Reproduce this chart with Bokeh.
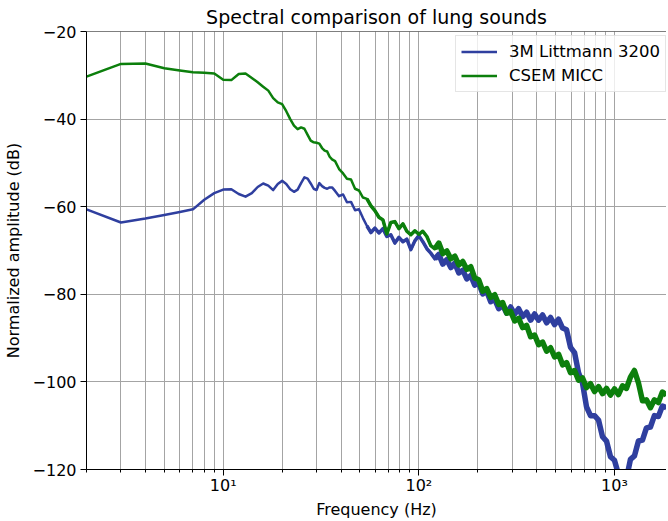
from bokeh.plotting import figure
from bokeh.models import (FixedTicker, CustomJSTickFormatter, Span, Legend,
                          LegendItem, ColumnDataSource, Title)
from bokeh.embed import file_html
from bokeh.resources import INLINE

TITLE = "Spectral comparison of lung sounds"
X_LABEL = "Frequency (Hz)"
Y_LABEL = "Normalized amplitude (dB)"
SERIES_NAMES = ["3M Littmann 3200", "CSEM MICC"]

FREQ = [2, 3, 4, 5, 6, 7, 8, 9, 10, 11, 12, 13, 14, 15, 16, 17, 18, 19, 20,
        21, 22, 23, 24, 25, 26, 27, 28, 29, 30, 31, 32, 33, 34, 35, 36,
        37.3, 39.1, 41.0, 42.9, 45.0, 47.2, 49.4, 51.8, 54.3, 56.9,
        59.6, 62.5, 65.5, 68.6, 71.9, 75.4, 79.1, 82.9, 86.8, 91.0,
        95.4, 100, 104.8, 109.9, 115.1, 120.7, 126.5, 132.6, 139.0, 145.7,
        152.7, 160.0, 167.7, 175.8, 184.2, 193.1, 202.4, 212.1, 222.3, 233.0,
        244.2, 256.0, 268.3, 281.2, 294.7, 308.9, 323.7, 339.3, 355.6, 372.8,
        390.7, 409.5, 429.2, 449.9, 471.5, 494.2, 518.0, 542.9, 569.0, 596.4,
        625.1, 655.2, 686.7, 719.7, 754.4, 790.7, 828.7, 868.6, 910.4, 954.2,
        1000, 1048, 1099, 1151, 1207, 1265, 1326, 1390, 1457, 1527,
        1600, 1677, 1758, 1842]

LITTMANN = [-60.6, -63.6, -62.7, -61.9, -61.2, -60.6, -58.4, -56.9, -56.1, -56.0,
            -57.1, -57.7, -56.9, -55.5, -54.7, -55.2, -56.2, -54.8, -54.1, -54.8,
            -56.0, -56.6, -56.1, -54.6, -53.3, -53.6, -54.7, -55.9, -56.2, -54.6,
            -55.3, -55.7, -55.9, -55.6, -55.6,
            -56.4, -57.6, -57.2, -59.0, -58.9, -60.8, -60.6, -62.6, -64.4, -65.9,
            -64.9, -66.0, -65.0, -66.8, -66.4, -68.3, -67.0, -68.0, -67.4, -69.8,
            -67.8, -66.6, -68.0, -69.6, -70.6, -71.9,
            -70.9, -73.1, -72.1, -73.9, -72.9, -75.1, -74.5, -76.5, -75.7, -77.9,
            -77.5, -79.9, -79.3, -81.7, -81.1, -83.3, -82.5, -84.3, -82.9, -84.5,
            -83.3, -85.1, -84.1, -85.9, -84.5, -85.9, -84.7, -86.5, -85.3, -86.9,
            -85.7, -87.7, -88.1, -92.1, -93.3, -97.9, -100.3, -105.7, -107.7, -107.7,
            -108.7, -112.5, -113.5, -117.1, -117.9, -121.1, -121.1, -122.1, -117.7, -116.9,
            -113.5, -113.3, -110.5, -110.3, -107.7, -107.9, -105.5, -105.9]

MICC = [-30.3, -27.4, -27.3, -28.4, -28.9, -29.3, -29.4, -29.6, -31.0, -31.1,
        -29.7, -29.6, -30.6, -31.6, -32.6, -33.5, -35.2, -36.2, -36.6, -38.2,
        -40.0, -41.5, -42.3, -41.9, -42.2, -43.6, -44.9, -45.3, -45.4, -45.6,
        -46.6, -47.2, -47.4, -48.6, -49.2,
        -49.6, -51.4, -52.4, -53.6, -53.8, -55.9, -56.3, -57.9, -58.2, -59.8,
        -60.9, -62.4, -63.0, -66.2, -63.6, -63.4, -65.0, -63.9, -65.6, -66.4,
        -65.5, -66.3, -65.6, -66.8, -68.9, -69.6,
        -68.3, -70.7, -70.1, -71.9, -71.3, -73.3, -72.5, -74.3, -73.7, -76.3,
        -76.7, -79.3, -78.7, -80.7, -80.1, -82.3, -81.9, -84.3, -83.9, -86.1,
        -85.5, -87.6, -87.1, -89.7, -89.3, -91.5, -90.9, -93.0, -92.2, -94.3,
        -93.7, -96.1, -95.6, -97.9, -97.4, -99.6, -99.1, -101.3, -100.4, -102.2,
        -101.1, -102.7, -101.5, -103.0, -101.6, -102.9, -100.9, -101.5, -98.9, -97.4,
        -100.2, -104.3, -104.1, -105.9, -104.1, -104.7, -102.3, -103.0]

X_MAJOR = [10, 100, 1000]
X_MINOR = [2, 3, 4, 5, 6, 7, 8, 9, 20, 30, 40, 50, 60, 70, 80, 90,
           200, 300, 400, 500, 600, 700, 800, 900]
Y_TICKS = [-120, -100, -80, -60, -40, -20]
X_RANGE = (2, 1845)
Y_RANGE = (-120, -20)

BLUE = "#2f3f9f"
GREEN = "#0c7f0c"
GRID = "#a4a4a4"
FONT = "DejaVu Sans"


def tail(f_from):
    i = next(j for j, f in enumerate(FREQ) if f >= f_from) - 1
    return ColumnDataSource(dict(freq=FREQ[i:], littmann=LITTMANN[i:], micc=MICC[i:]))


src = ColumnDataSource(dict(freq=FREQ, littmann=LITTMANN, micc=MICC))
src_mid = tail(56)
src_hi = tail(125)

p = figure(frame_width=580, frame_height=438, x_axis_type="log", x_range=X_RANGE,
           y_range=Y_RANGE, output_backend="svg", toolbar_location=None, title=TITLE,
           min_border_left=80, min_border_right=0, min_border_top=23, min_border_bottom=44)

p.title.text_font = FONT
p.title.text_font_size = "19px"
p.title.text_font_style = "normal"
p.title.align = "center"
p.title.text_color = "black"
p.title.standoff = 7
p.title.offset = 3

p.outline_line_color = None
p.background_fill_color = "white"
p.border_fill_color = "white"

xt = FixedTicker(ticks=X_MAJOR, minor_ticks=X_MINOR)
yt = FixedTicker(ticks=Y_TICKS)
p.xaxis.ticker = xt
p.yaxis.ticker = yt
p.xgrid.ticker = xt
p.ygrid.ticker = yt

p.xaxis.formatter = CustomJSTickFormatter(code="""
const s = {1: '\u00b9', 2: '\u00b2', 3: '\u00b3'};
const e = Math.round(Math.log10(tick));
return '10' + (s[e] || String(e));
""")
p.yaxis.formatter = CustomJSTickFormatter(code="""
return tick < 0 ? '\u2212' + String(-tick) : String(tick);
""")

for ax in (p.xaxis[0], p.yaxis[0]):
    ax.axis_line_color = "black"
    ax.axis_line_width = 1
    ax.major_tick_line_color = "black"
    ax.major_tick_out = 6
    ax.major_tick_in = 0
    ax.minor_tick_line_color = "black"
    ax.minor_tick_out = 3
    ax.minor_tick_in = 0
    ax.major_label_text_font = FONT
    ax.major_label_text_font_size = "16px"
    ax.major_label_text_color = "black"
    ax.axis_label_text_font = FONT
    ax.axis_label_text_font_size = "16px"
    ax.axis_label_text_font_style = "normal"
    ax.axis_label_text_color = "black"

p.yaxis.minor_tick_line_color = None
p.yaxis.axis_label = Y_LABEL
p.xaxis.major_label_standoff = 0
p.yaxis.major_label_standoff = 4
p.yaxis.axis_label_standoff = 7

# x axis title, placed below the x axis as a text panel
x_title = Title(text=X_LABEL, align="center", offset=3, standoff=0,
                text_font=FONT, text_font_size="16px", text_font_style="normal",
                text_color="black")
p.add_layout(x_title, "below")

p.xgrid.grid_line_color = GRID
p.xgrid.minor_grid_line_color = GRID
p.ygrid.grid_line_color = GRID
p.xgrid.grid_line_width = 1
p.ygrid.grid_line_width = 1

p.add_layout(Span(location=Y_RANGE[1], dimension="width", line_color="black", line_width=1))

rb = p.line("freq", "littmann", source=src, line_color=BLUE, line_width=2.5, line_join="round")
p.line("freq", "littmann", source=src_mid, line_color=BLUE, line_width=3.5, line_join="round")
p.line("freq", "littmann", source=src_hi, line_color=BLUE, line_width=5.5, line_join="round")
rg = p.line("freq", "micc", source=src, line_color=GREEN, line_width=2.5, line_join="round")
p.line("freq", "micc", source=src_mid, line_color=GREEN, line_width=3.5, line_join="round")
p.line("freq", "micc", source=src_hi, line_color=GREEN, line_width=5.5, line_join="round")

legend = Legend(items=[LegendItem(label=SERIES_NAMES[0], renderers=[rb]),
                       LegendItem(label=SERIES_NAMES[1], renderers=[rg])],
                location=(369, 377))
legend.label_text_font = FONT
legend.label_text_font_size = "16.5px"
legend.label_text_color = "black"
legend.glyph_width = 36
legend.glyph_height = 21
legend.label_height = 21
legend.spacing = 3
legend.padding = 5
legend.margin = 0
legend.label_standoff = 12
legend.border_line_color = "#cccccc"
legend.border_line_width = 1
legend.background_fill_color = "white"
legend.background_fill_alpha = 0.8
p.add_layout(legend)

open("out.html", "w").write(file_html(p, INLINE))
